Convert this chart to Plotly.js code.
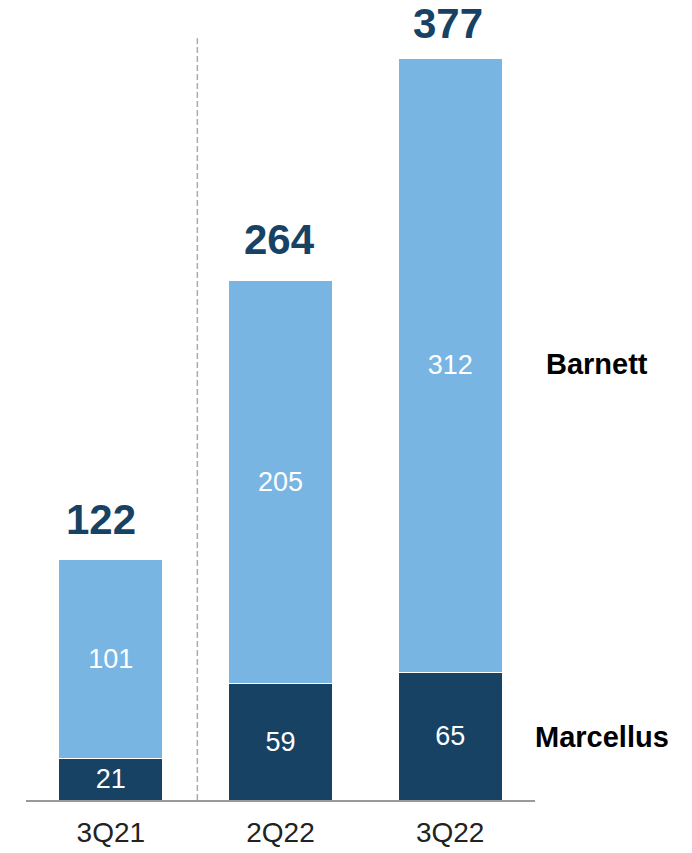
<!DOCTYPE html>
<html><head><meta charset="utf-8">
<script src="https://cdn.plot.ly/plotly-3.0.1.min.js"></script>
<style>html,body{margin:0;padding:0;background:#fff}#chart{width:692px;height:853px}</style>
</head><body><div id="chart"></div>
<script>
const categories = ["3Q21", "2Q22", "3Q22"];
const marcellus = [21, 59, 65];
const barnett = [101, 205, 312];
const totals = [122, 264, 377];
const seriesNames = ["Marcellus", "Barnett"];

const navy = "#174263";
const light = "#78b5e3";
const font = "Liberation Sans, Arial, sans-serif";

const traces = [
  {type: "bar", x: categories, y: marcellus, name: seriesNames[0],
   marker: {color: navy, line: {color: "#ffffff", width: 1}},
   text: marcellus.map(String), textposition: "inside", insidetextanchor: "middle",
   textfont: {color: "#ffffff", size: 27, family: font}, hoverinfo: "none"},
  {type: "bar", x: categories, y: barnett, name: seriesNames[1],
   marker: {color: light, line: {color: "#ffffff", width: 1}},
   text: barnett.map(String), textposition: "inside", insidetextanchor: "middle",
   textfont: {color: "#ffffff", size: 27, family: font}, hoverinfo: "none"}
];

const totalShift = [15, 15, 9];
const totalXShift = [-10, -1, -2];
const annotations = categories.map((c, i) => ({
  x: c, y: totals[i], xref: "x", yref: "y", text: "<b>" + totals[i] + "</b>",
  showarrow: false, yanchor: "bottom", yshift: totalShift[i], xshift: totalXShift[i],
  font: {size: 42, color: navy, family: font}
}));
annotations.push({x: 1, xref: "paper", xanchor: "left", xshift: 9, y: 221.5, yref: "y",
  text: "<b>" + seriesNames[1] + "</b>", showarrow: false, font: {size: 29, color: "#000", family: font}});
annotations.push({x: 1, xref: "paper", xanchor: "left", xshift: -2, y: 32, yref: "y",
  text: "<b>" + seriesNames[0] + "</b>", showarrow: false, font: {size: 29, color: "#000", family: font}});

const layout = {
  width: 692, height: 853,
  margin: {l: 26, r: 157, t: 10, b: 53},
  barmode: "stack", bargap: 0.387,
  showlegend: false,
  paper_bgcolor: "#fff", plot_bgcolor: "#fff",
  font: {family: font},
  xaxis: {type: "category", range: [-0.5, 2.5], showline: true, linecolor: "#999", linewidth: 2,
    ticks: "", tickfont: {size: 28, color: "#222", family: font}, ticklabelstandoff: 6, fixedrange: true},
  yaxis: {range: [0, 401.4], visible: false, showgrid: false, zeroline: false, fixedrange: true},
  shapes: [{type: "line", xref: "x", yref: "y", x0: 0.51, x1: 0.51, y0: 0, y1: 387,
    line: {color: "#aaaaaa", width: 1.5, dash: "6px,3px"}}],
  annotations: annotations
};
Plotly.newPlot("chart", traces, layout, {displayModeBar: false, staticPlot: true});
</script></body></html>
